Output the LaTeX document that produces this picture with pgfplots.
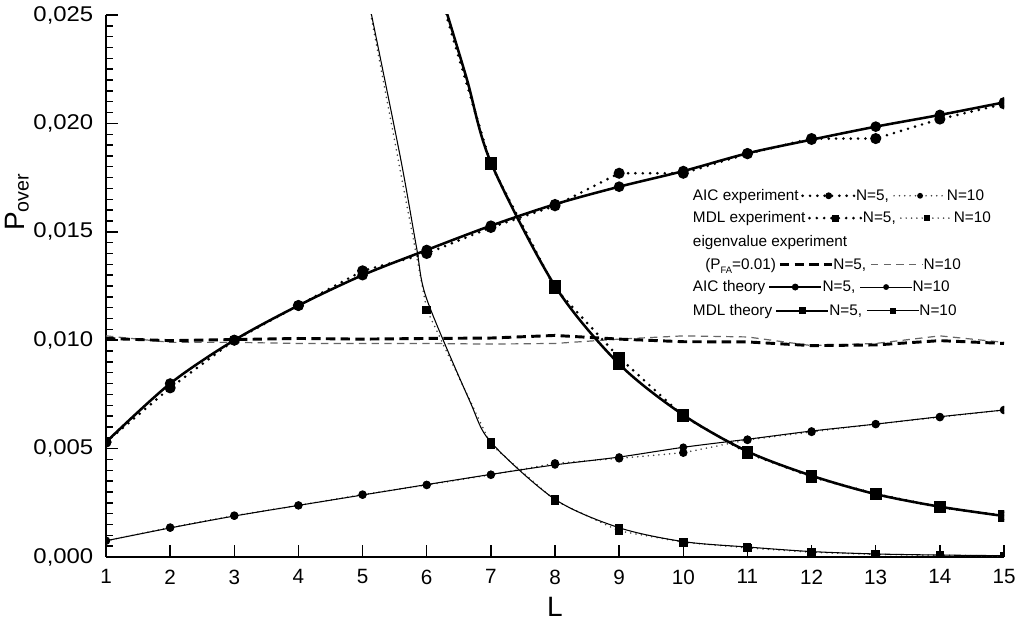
\documentclass[border=0pt]{standalone}
\usepackage{fontspec}
\setmainfont{Liberation Sans}
\newfontfamily\tickfont[FakeStretch=1.12]{Liberation Sans}
\usepackage{pgfplots}
\pgfplotsset{compat=1.18}
\usetikzlibrary{calc}

\tikzset{
  thickdot/.style={line width=2.2pt, line cap=round, dash pattern=on 0pt off 5.5pt},
  thindot/.style={line width=1.3pt, line cap=round, dash pattern=on 0pt off 4pt, black!75},
  thickdash/.style={line width=2.2pt, dash pattern=on 7pt off 4pt},
  thindash/.style={line width=0.9pt, dash pattern=on 5.5pt off 4pt, black!60},
  thickline/.style={line width=1.9pt},
  thinline/.style={line width=0.8pt},
}
\newcommand{\lsmp}[2]{\tikz[baseline=-0.6ex]{\draw[#1] (0,0)--(39pt,0); #2}}
\newcommand{\Cm}[1]{\fill (19.5pt,0) circle (#1);}
\newcommand{\Sm}[1]{\fill (19.5pt-#1,-#1) rectangle (19.5pt+#1,#1);}

\begin{document}
\begin{tikzpicture}
\begin{axis}[
  scale only axis, width=673.5pt, height=406.5pt,
  xmin=1, xmax=15, ymin=0, ymax=0.025,
  axis x line*=bottom, axis y line*=left,
  axis line style={line width=1.6pt},
  xtick={1,...,15},
  ytick={0,0.005,0.01,0.015,0.02,0.025},
  minor y tick num=9,
  tick align=inside,
  major tick length=9pt, minor tick length=5pt,
  every tick/.style={black, line width=1.1pt},
  scaled y ticks=false,
  /pgf/number format/assume math mode=true,
  yticklabel style={/pgf/number format/.cd, fixed, fixed zerofill, precision=3, use comma, /tikz/.cd, xshift=-6pt, font=\tickfont\fontsize{16}{18}\selectfont},
  xticklabel style={yshift=-6pt, font=\fontsize{15.5}{18}\selectfont},
  clip marker paths=true,
  ylabel={P\textsubscript{over}},
  ylabel style={at={(axis description cs:-0.099,0.655)}, anchor=center, font=\fontsize{21}{24}\selectfont},
  xlabel={L},
  xlabel style={at={(axis description cs:0.5,-0.092)}, anchor=center, font=\fontsize{21}{24}\selectfont},
]
% eigenvalue experiment
\addplot[thindash] coordinates {(1,0.0102) (2,0.0099) (3,0.0099) (4,0.00985) (5,0.00985) (6,0.00985) (7,0.00982) (8,0.00985) (9,0.01005) (10,0.0102) (11,0.01015) (12,0.00975) (13,0.00985) (14,0.0102) (15,0.0099)};
\addplot[thickdash] coordinates {(1,0.01008) (2,0.00998) (3,0.01003) (4,0.01008) (5,0.01005) (6,0.01008) (7,0.0101) (8,0.01022) (9,0.01005) (10,0.00993) (11,0.00992) (12,0.00975) (13,0.00978) (14,0.00998) (15,0.00985)};
% AIC experiment
\addplot[thindot, mark=*, mark size=2.5pt, mark options={solid, fill=black, draw=black}] coordinates {(1,0.00075) (2,0.00136) (3,0.00191) (4,0.00238) (5,0.00288) (6,0.00332) (7,0.00379) (8,0.00432) (9,0.00455) (10,0.00481) (11,0.00540) (12,0.00577) (13,0.00613) (14,0.00645) (15,0.00678)};
\addplot[thickdot, mark=*, mark size=3pt, mark options={solid}] coordinates {(1,0.0053) (2,0.0078) (3,0.0100) (4,0.0116) (5,0.0132) (6,0.0140) (7,0.0152) (8,0.0162) (9,0.0177) (10,0.0177) (11,0.0186) (12,0.0193) (13,0.0193) (14,0.0202) (15,0.0209)};
% MDL experiment
\addplot[thindot, mark=square*, mark size=2.6pt, mark options={solid, fill=black, draw=black}] coordinates {(5,0.0270) (6,0.0114) (7,0.0052) (8,0.0026) (9,0.0012) (10,0.00068) (11,0.00042) (12,0.00022) (13,0.00012) (14,0.00008) (15,0.00005)};
\addplot[thickdot, mark=square*, mark size=3.3pt, mark options={solid}] coordinates {(6,0.0280) (7,0.0181) (8,0.0124) (9,0.0092) (10,0.0065) (11,0.0048) (12,0.0037) (13,0.0029) (14,0.0023) (15,0.0019)};
% AIC theory
\addplot[thinline, smooth, mark=*, mark size=2.5pt] coordinates {(1,0.00075) (2,0.00134) (3,0.00189) (4,0.00238) (5,0.00286) (6,0.00334) (7,0.00381) (8,0.00425) (9,0.00461) (10,0.00506) (11,0.00543) (12,0.00581) (13,0.00613) (14,0.00647) (15,0.00678)};
\addplot[thickline, smooth, mark=*, mark size=3pt] coordinates {(1,0.0053) (2,0.0080) (3,0.0100) (4,0.0116) (5,0.0130) (6,0.01416) (7,0.01528) (8,0.01627) (9,0.01708) (10,0.0178) (11,0.01862) (12,0.01925) (13,0.01985) (14,0.02039) (15,0.02097)};
% MDL theory
\addplot[thinline, smooth, mark=square*, mark size=2.6pt, mark indices={5,6,7,8,9,10,11,12,13}] coordinates {(5.05,0.0263) (5.585,0.0185) (5.84,0.0143) (6,0.0119) (6.67,0.0072) (7,0.0053) (8,0.00266) (9,0.00135) (10,0.00071) (11,0.00046) (12,0.00025) (13,0.00014) (14,0.00009) (15,0.00006)};
\addplot[thickline, smooth, mark=square*, mark size=3.3pt, mark indices={2,3,4,5,6,7,8,9,10}] coordinates {(6.2,0.0262) (6.62,0.0221) (7,0.0182) (8,0.0125) (9,0.0089) (10,0.00655) (11,0.00487) (12,0.00375) (13,0.0029) (14,0.00232) (15,0.00189)};

\coordinate (r1) at (axis cs:10.147,0.01662);
\coordinate (r2) at (axis cs:10.147,0.01559);
\coordinate (r3) at (axis cs:10.147,0.01450);
\coordinate (r4) at (axis cs:10.339,0.01342);
\coordinate (r5) at (axis cs:10.147,0.01241);
\coordinate (r6) at (axis cs:10.147,0.01131);
\end{axis}
\begin{scope}[every node/.style={anchor=west, inner sep=0pt, font=\fontsize{11.5}{13}\selectfont}]
\node at (r1) {AIC experiment\,\lsmp{thickdot}{\Cm{2.6pt}}N=5, \lsmp{thindot}{\Cm{2.2pt}}N=10};
\node at (r2) {MDL experiment\,\lsmp{thickdot}{\Sm{2.6pt}}N=5, \lsmp{thindot}{\Sm{2.2pt}}N=10};
\node at (r3) {eigenvalue experiment};
\node at (r4) {(P\raisebox{-0.55ex}{\fontsize{7}{8}\selectfont FA}=0.01)\,\lsmp{thickdash}{}N=5, \lsmp{thindash}{}N=10};
\node at (r5) {AIC theory\,\lsmp{thickline}{\Cm{2.6pt}}N=5, \lsmp{thinline}{\Cm{2.2pt}}N=10};
\node at (r6) {MDL theory\,\lsmp{thickline}{\Sm{2.6pt}}N=5, \lsmp{thinline}{\Sm{2.2pt}}N=10};
\end{scope}
\pgfresetboundingbox
\path[use as bounding box] ($(current axis.south west)+(-79.5pt,-53.25pt)$) rectangle ($(current axis.north east)+(10.5pt,11.25pt)$);
\end{tikzpicture}
\end{document}
